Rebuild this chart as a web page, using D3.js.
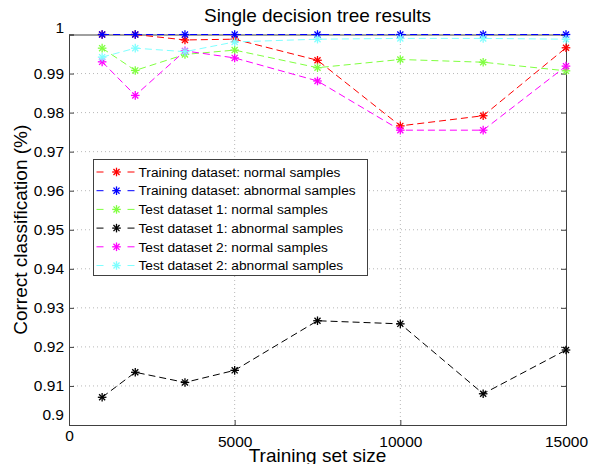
<!DOCTYPE html>
<html>
<head>
<meta charset="utf-8">
<script src="https://cdn.jsdelivr.net/npm/d3@7/dist/d3.min.js"></script>
<style>
    body { margin: 0; background: #fff; }
    svg { font-family: "Liberation Sans", Arial, Helvetica, sans-serif; }
</style>
</head>
<body>
<div id="chart"><svg></svg></div>
<script>
const sizes = [1000, 2000, 3500, 5000, 7500, 10000, 12500, 15000];

const trainNormal   = [1.0000, 1.0000, 0.9986, 0.9988, 0.9934, 0.9766, 0.9792, 0.9966];
const trainAbnormal = [1.0000, 1.0000, 1.0000, 1.0000, 1.0000, 1.0000, 1.0000, 1.0000];
const test1Normal   = [0.9965, 0.9908, 0.9949, 0.9960, 0.9915, 0.9936, 0.9929, 0.9907];
const test1Abnormal = [0.9071, 0.9135, 0.9109, 0.9140, 0.9267, 0.9259, 0.9080, 0.9192];
const test2Normal   = [0.9930, 0.9844, 0.9958, 0.9940, 0.9881, 0.9755, 0.9755, 0.9919];
const test2Abnormal = [0.9942, 0.9965, 0.9956, 0.9981, 0.9988, 0.9990, 0.9990, 0.9988];

const seriesNames = [
    'Training dataset: normal samples',
    'Training dataset: abnormal samples',
    'Test dataset 1: normal samples',
    'Test dataset 1: abnormal samples',
    'Test dataset 2: normal samples',
    'Test dataset 2: abnormal samples'
];
const seriesValues = [trainNormal, trainAbnormal, test1Normal, test1Abnormal, test2Normal, test2Abnormal];
const seriesColors = ['#ff0000', '#0000ff', '#80ff40', '#000000', '#ff00ff', '#80ffff'];

const xTicks = [0, 5000, 10000, 15000];
const yTicks = d3.range(0, 11).map(i => +(0.9 + i * 0.01).toFixed(2));

const width = 590, height = 464;
const margin = {left: 69, right: 24, top: 34.5, bottom: 39};

const svg = d3.select('#chart svg')
    .attr('width', width)
    .attr('height', height);

const x = d3.scaleLinear().domain([0, 15000]).range([margin.left, width - margin.right]);
const y = d3.scaleLinear().domain([0.9, 1]).range([height - margin.bottom, margin.top]);

const x0 = x.range()[0], x1 = x.range()[1];
const y0 = y.range()[0], y1 = y.range()[1];

// grid
const grid = svg.append('g').attr('class', 'grid');
grid.selectAll('line.gx')
    .data(xTicks.slice(1, -1))
    .enter().append('line')
    .attr('x1', d => x(d)).attr('x2', d => x(d))
    .attr('y1', y0).attr('y2', y1);
grid.selectAll('line.gy')
    .data(yTicks.slice(1, -1))
    .enter().append('line')
    .attr('x1', x0).attr('x2', x1)
    .attr('y1', d => y(d)).attr('y2', d => y(d));
grid.selectAll('line')
    .attr('stroke', '#b8b8b8')
    .attr('stroke-width', 1)
    .attr('stroke-dasharray', '1,3');

// axes (matlab style: ticks inward, box all round)
const xAxis = d3.axisBottom(x).tickValues(xTicks).tickSize(-5).tickPadding(8).tickFormat(d3.format('d'));
const yAxis = d3.axisLeft(y).tickValues(yTicks).tickSize(-5).tickPadding(5).tickFormat(d => d === 1 ? '1' : d3.format('.2~f')(d));

const gx = svg.append('g').attr('transform', `translate(0,${y0})`).call(xAxis);
const gy = svg.append('g').attr('transform', `translate(${x0},0)`).call(yAxis);
// mirror ticks on top / right
svg.append('g').attr('transform', `translate(0,${y1})`)
    .call(d3.axisTop(x).tickValues(xTicks).tickSize(-5).tickFormat(''));
svg.append('g').attr('transform', `translate(${x1},0)`)
    .call(d3.axisRight(y).tickValues(yTicks).tickSize(-5).tickFormat(''));

svg.selectAll('.domain').attr('stroke', '#404040').attr('stroke-width', 1);
svg.selectAll('.tick line').attr('stroke', '#404040');
svg.selectAll('.tick text').attr('fill', '#000').style('font-size', '15.5px');
gx.selectAll('.tick text').attr('dy', d => d === 0 ? '0.52em' : '0.91em');
gy.selectAll('.tick text').filter(d => d === 1).attr('dy', '-0.14em');
gy.selectAll('.tick text').filter(d => d === 0.9).attr('dy', '-0.33em');

// series
const line = d3.line()
    .x((d, i) => x(sizes[i]))
    .y(d => y(d));

function star(g, cx, cy, color) {
    const r = 4.3;
    for (let k = 0; k < 4; k++) {
        const a = k * Math.PI / 4;
        g.append('line')
            .attr('x1', cx - r * Math.cos(a)).attr('y1', cy - r * Math.sin(a))
            .attr('x2', cx + r * Math.cos(a)).attr('y2', cy + r * Math.sin(a))
            .attr('stroke', color).attr('stroke-width', 1.3);
    }
}

const plot = svg.append('g').attr('class', 'plot');
seriesValues.forEach((vals, s) => {
    const g = plot.append('g');
    g.append('path')
        .datum(vals)
        .attr('d', line)
        .attr('fill', 'none')
        .attr('stroke', seriesColors[s])
        .attr('stroke-width', 1)
        .attr('stroke-dasharray', '7,4');
    vals.forEach((v, i) => star(g, x(sizes[i]), y(v), seriesColors[s]));
});

// legend
const lg = svg.append('g').attr('transform', 'translate(93.5,159.5)');
lg.append('rect')
    .attr('width', 274).attr('height', 116)
    .attr('fill', '#fff').attr('stroke', '#404040').attr('stroke-width', 1);
seriesNames.forEach((name, s) => {
    const ry = 12.5 + s * 18.7;
    const row = lg.append('g');
    row.append('line')
        .attr('x1', 3).attr('x2', 41).attr('y1', ry).attr('y2', ry)
        .attr('stroke', seriesColors[s]).attr('stroke-width', 1)
        .attr('stroke-dasharray', '7,24');
    star(row, 23, ry, seriesColors[s]);
    row.append('text')
        .attr('x', 45).attr('y', ry).attr('dy', '0.35em')
        .style('font-size', '13.7px')
        .text(name);
});

// title and labels
svg.append('text')
    .attr('x', (x0 + x1) / 2).attr('y', 22)
    .attr('text-anchor', 'middle')
    .style('font-size', '19px')
    .text('Single decision tree results');

svg.append('text')
    .attr('x', (x0 + x1) / 2).attr('y', 462)
    .attr('text-anchor', 'middle')
    .style('font-size', '19px')
    .text('Training set size');

svg.append('text')
    .attr('transform', `translate(27,${(y0 + y1) / 2}) rotate(-90)`)
    .attr('text-anchor', 'middle')
    .style('font-size', '19px')
    .text('Correct classification (%)');
</script>
</body>
</html>
